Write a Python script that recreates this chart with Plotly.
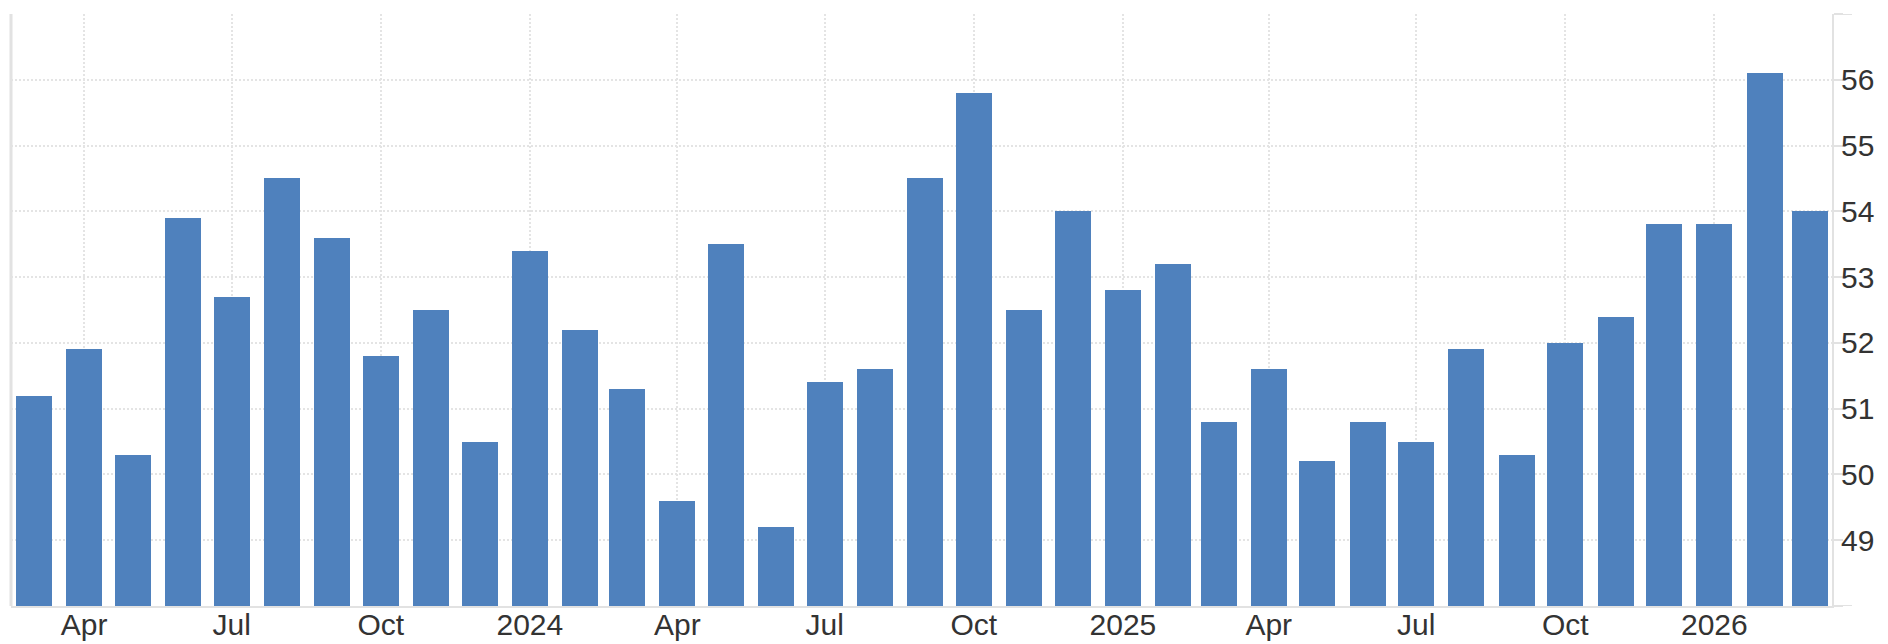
import plotly.graph_objects as go

months = ["2023-03-01", "2023-04-01", "2023-05-01", "2023-06-01", "2023-07-01", "2023-08-01",
          "2023-09-01", "2023-10-01", "2023-11-01", "2023-12-01", "2024-01-01", "2024-02-01",
          "2024-03-01", "2024-04-01", "2024-05-01", "2024-06-01", "2024-07-01", "2024-08-01",
          "2024-09-01", "2024-10-01", "2024-11-01", "2024-12-01", "2025-01-01", "2025-02-01",
          "2025-03-01", "2025-04-01", "2025-05-01", "2025-06-01", "2025-07-01", "2025-08-01",
          "2025-09-01", "2025-10-01", "2025-11-01", "2025-12-01", "2026-01-01", "2026-02-01",
          "2026-03-01"]
values = [51.2, 51.9, 50.3, 53.9, 52.7, 54.5, 53.6, 51.8, 52.5, 50.5, 53.4, 52.2,
          51.3, 49.6, 53.5, 49.2, 51.4, 51.6, 54.5, 55.8, 52.5, 54.0, 52.8, 53.2,
          50.8, 51.6, 50.2, 50.8, 50.5, 51.9, 50.3, 52.0, 52.4, 53.8, 53.8, 56.1,
          54.0]

x_tick_vals = ["2023-04-01", "2023-07-01", "2023-10-01", "2024-01-01", "2024-04-01",
               "2024-07-01", "2024-10-01", "2025-01-01", "2025-04-01", "2025-07-01",
               "2025-10-01", "2026-01-01"]
x_tick_text = ["Apr", "Jul", "Oct", "2024", "Apr", "Jul", "Oct", "2025", "Apr", "Jul",
               "Oct", "2026"]
y_tick_vals = [48, 49, 50, 51, 52, 53, 54, 55, 56, 57]
y_tick_text = ["", "49", "50", "51", "52", "53", "54", "55", "56", ""]

GRID = "#e4e4e4"
LINE = "#e2e2e2"
TEXT = "#333333"
FONT = "Liberation Sans, Arial, Helvetica, sans-serif"

fig = go.Figure()
fig.add_trace(go.Bar(
    x=months, y=values,
    width=22.2 * 86400000,
    marker=dict(color="#4f81bd", line=dict(width=0)),
    hoverinfo="x+y",
))

# page body has an 8px default margin; the figure is offset accordingly
W, H = 1880, 636
ML, MR, MT, MB = 3, 56, 6, 38
plot_w = W - ML - MR
ext = 20 / plot_w

fig.update_layout(
    width=W, height=H,
    margin=dict(l=ML, r=MR, t=MT, b=MB, autoexpand=False),
    paper_bgcolor="white", plot_bgcolor="white",
    showlegend=False,
    bargap=0,
    font=dict(family=FONT, color=TEXT, size=30),
    xaxis=dict(
        type="date",
        range=["2023-02-14 20:00", "2026-03-14 14:00"],
        tickmode="array", tickvals=x_tick_vals, ticktext=x_tick_text,
        showgrid=True, gridcolor=GRID, gridwidth=2, griddash="2px,2px",
        showline=True, linecolor=LINE, linewidth=2,
        ticks="", ticklabelstandoff=-9,
        zeroline=False,
        tickfont=dict(size=30, color=TEXT, family=FONT),
    ),
    yaxis=dict(
        side="right",
        range=[48, 57],
        tickmode="array", tickvals=y_tick_vals, ticktext=y_tick_text,
        showgrid=True, gridcolor=GRID, gridwidth=2, griddash="2px,2px",
        showline=True, linecolor=LINE, linewidth=2,
        ticks="outside", ticklen=9, tickcolor=LINE, tickwidth=2,
        ticklabelstandoff=-8,
        zeroline=False,
        tickfont=dict(size=30, color=TEXT, family=FONT),
    ),
    shapes=[
        dict(type="line", xref="paper", yref="paper", x0=0, x1=0, y0=0, y1=1,
             line=dict(color=LINE, width=3)),
        dict(type="line", xref="paper", yref="y", x0=1, x1=1 + ext, y0=57, y1=57,
             line=dict(color=LINE, width=2)),
        dict(type="line", xref="paper", yref="y", x0=1, x1=1 + ext, y0=48, y1=48,
             line=dict(color=LINE, width=2)),
    ],
)

fig.write_html("out.html")
